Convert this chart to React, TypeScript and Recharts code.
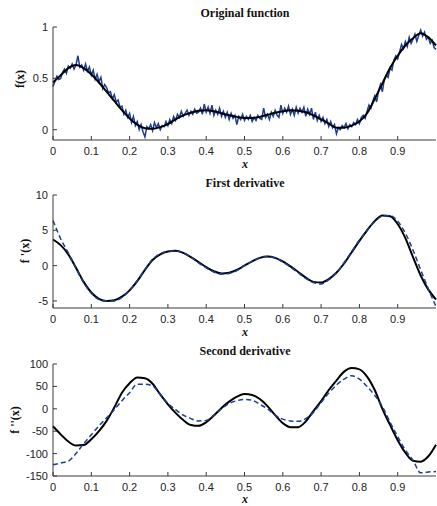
import React from "react"
import { Line, LineChart, XAxis, YAxis } from "recharts"

// fine x grid for the noisy samples
const xFine = [
  0, 0.005, 0.01, 0.015, 0.02, 0.025, 0.03, 0.035, 0.04, 0.045,
  0.05, 0.055, 0.06, 0.065, 0.07, 0.075, 0.08, 0.085, 0.09, 0.095,
  0.1, 0.105, 0.11, 0.115, 0.12, 0.125, 0.13, 0.135, 0.14, 0.145,
  0.15, 0.155, 0.16, 0.165, 0.17, 0.175, 0.18, 0.185, 0.19, 0.195,
  0.2, 0.205, 0.21, 0.215, 0.22, 0.225, 0.23, 0.235, 0.24, 0.245,
  0.25, 0.255, 0.26, 0.265, 0.27, 0.275, 0.28, 0.285, 0.29, 0.295,
  0.3, 0.305, 0.31, 0.315, 0.32, 0.325, 0.33, 0.335, 0.34, 0.345,
  0.35, 0.355, 0.36, 0.365, 0.37, 0.375, 0.38, 0.385, 0.39, 0.395,
  0.4, 0.405, 0.41, 0.415, 0.42, 0.425, 0.43, 0.435, 0.44, 0.445,
  0.45, 0.455, 0.46, 0.465, 0.47, 0.475, 0.48, 0.485, 0.49, 0.495,
  0.5, 0.505, 0.51, 0.515, 0.52, 0.525, 0.53, 0.535, 0.54, 0.545,
  0.55, 0.555, 0.56, 0.565, 0.57, 0.575, 0.58, 0.585, 0.59, 0.595,
  0.6, 0.605, 0.61, 0.615, 0.62, 0.625, 0.63, 0.635, 0.64, 0.645,
  0.65, 0.655, 0.66, 0.665, 0.67, 0.675, 0.68, 0.685, 0.69, 0.695,
  0.7, 0.705, 0.71, 0.715, 0.72, 0.725, 0.73, 0.735, 0.74, 0.745,
  0.75, 0.755, 0.76, 0.765, 0.77, 0.775, 0.78, 0.785, 0.79, 0.795,
  0.8, 0.805, 0.81, 0.815, 0.82, 0.825, 0.83, 0.835, 0.84, 0.845,
  0.85, 0.855, 0.86, 0.865, 0.87, 0.875, 0.88, 0.885, 0.89, 0.895,
  0.9, 0.905, 0.91, 0.915, 0.92, 0.925, 0.93, 0.935, 0.94, 0.945,
  0.95, 0.955, 0.96, 0.965, 0.97, 0.975, 0.98, 0.985, 0.99, 0.995,
  1,
]
// coarse x grid for the smooth curves
const xCoarse = [
  0, 0.02, 0.04, 0.06, 0.08, 0.1, 0.12, 0.14, 0.16, 0.18,
  0.2, 0.22, 0.24, 0.26, 0.28, 0.3, 0.32, 0.34, 0.36, 0.38,
  0.4, 0.42, 0.44, 0.46, 0.48, 0.5, 0.52, 0.54, 0.56, 0.58,
  0.6, 0.62, 0.64, 0.66, 0.68, 0.7, 0.72, 0.74, 0.76, 0.78,
  0.8, 0.82, 0.84, 0.86, 0.88, 0.9, 0.92, 0.94, 0.96, 0.98,
  1,
]

// noisy samples (blue) on xFine
const fNoisy = [
  0.42, 0.47, 0.52, 0.49, 0.5, 0.56, 0.59, 0.55, 0.62, 0.6,
  0.64, 0.59, 0.63, 0.72, 0.61, 0.63, 0.58, 0.64, 0.57, 0.61,
  0.53, 0.58, 0.49, 0.54, 0.47, 0.51, 0.4, 0.44, 0.41, 0.36,
  0.37, 0.3, 0.34, 0.27, 0.29, 0.22, 0.23, 0.15, 0.19, 0.12,
  0.16, 0.07, 0.13, 0.04, 0.08, 0.0, 0.05, -0.02, -0.07, 0.03,
  0.01, 0.05, -0.01, 0.07, 0.02, 0.06, 0.0, 0.04, 0.03, 0.08,
  0.04, 0.1, 0.06, 0.13, 0.09, 0.15, 0.12, 0.18, 0.13, 0.16,
  0.19, 0.14, 0.18, 0.15, 0.2, 0.16, 0.17, 0.21, 0.15, 0.25,
  0.17, 0.22, 0.16, 0.24, 0.14, 0.19, 0.15, 0.21, 0.13, 0.18,
  0.12, 0.17, 0.1, 0.16, 0.11, 0.14, 0.05, 0.13, 0.1, 0.15,
  0.09, 0.13, 0.1, 0.14, 0.08, 0.12, 0.09, 0.14, 0.11, 0.1,
  0.21, 0.12, 0.15, 0.1, 0.17, 0.13, 0.19, 0.14, 0.12, 0.24,
  0.16, 0.21, 0.17, 0.23, 0.15, 0.2, 0.14, 0.22, 0.16, 0.21,
  0.17, 0.22, 0.13, 0.2, 0.15, 0.21, 0.1, 0.17, 0.09, 0.14,
  0.08, 0.12, 0.06, 0.1, 0.03, 0.08, 0.02, 0.05, -0.04, 0.02,
  0.0, 0.04, 0.02, 0.06, 0.01, 0.05, 0.03, 0.07, 0.05, 0.1,
  0.06, 0.12, 0.14, 0.11, 0.18, 0.24, 0.21, 0.28, 0.33, 0.27,
  0.38, 0.44, 0.37, 0.49, 0.53, 0.51, 0.6, 0.58, 0.68, 0.72,
  0.69, 0.76, 0.83, 0.79, 0.86, 0.81, 0.9, 0.84, 0.88, 0.93,
  0.86, 0.92, 0.97, 0.91, 0.95, 0.88, 0.9, 0.84, 0.87, 0.8,
  0.78,
]

// smooth curves (black) and estimates (blue dashed) on xCoarse
const fSmooth = [
  0.46, 0.53, 0.6, 0.63, 0.6, 0.54, 0.46, 0.37, 0.28, 0.19,
  0.11, 0.05, 0.015, 0.01, 0.025, 0.055, 0.1, 0.14, 0.165, 0.185,
  0.19, 0.18, 0.16, 0.14, 0.125, 0.115, 0.115, 0.125, 0.145, 0.165,
  0.18, 0.19, 0.185, 0.17, 0.14, 0.1, 0.06, 0.02, 0.02, 0.04,
  0.08, 0.16, 0.3, 0.45, 0.6, 0.72, 0.82, 0.89, 0.94, 0.9,
  0.82,
]
const d1True = [
  3.7, 2.9, 1.6, -0.3, -2.3, -3.8, -4.7, -5.0, -4.9, -4.4,
  -3.5, -2.2, -0.6, 0.8, 1.6, 2.0, 2.1, 1.8, 1.2, 0.5,
  -0.2, -0.8, -1.1, -1.0, -0.6, 0.0, 0.6, 1.1, 1.3, 1.1,
  0.6, -0.1, -0.9, -1.7, -2.3, -2.4, -1.9, -1.0, 0.3, 1.9,
  3.5, 5.0, 6.3, 7.1, 7.0, 5.9, 3.9, 1.2, -1.4, -3.4,
  -4.8,
]
const d1Est = [
  6.4, 3.8, 1.8, -0.4, -2.4, -3.9, -4.8, -5.0, -5.0, -4.5,
  -3.5, -2.1, -0.6, 0.9, 1.7, 2.0, 2.1, 1.8, 1.2, 0.4,
  -0.3, -0.9, -1.2, -1.1, -0.7, 0.0, 0.6, 1.1, 1.3, 1.1,
  0.5, -0.2, -1.0, -1.8, -2.4, -2.6, -2.0, -1.0, 0.4, 2.0,
  3.6, 5.0, 6.2, 7.0, 7.1, 6.3, 4.6, 2.2, -0.6, -3.3,
  -5.8,
]
const d2True = [
  -39, -57, -73, -82, -81, -68, -50, -27, 3, 36,
  57, 70, 68, 56, 32, 10, -9, -25, -36, -38,
  -30, -15, 2, 16, 27, 33, 31, 22, 6, -14,
  -32, -41, -41, -28, -5, 17, 42, 63, 83, 91,
  88, 72, 42, 0, -36, -70, -98, -116, -118, -106,
  -80,
]
const d2Est = [
  -125, -121, -117, -100, -78, -58, -38, -20, -2, 18,
  36, 55, 55, 51, 32, 12, -2, -14, -22, -27,
  -26, -15, 0, 12, 18, 21, 19, 10, 0, -14,
  -23, -27, -28, -22, -8, 14, 35, 53, 66, 74,
  66, 50, 30, 5, -30, -62, -92, -115, -143, -141,
  -140,
]

const xTicks = [0, 0.1, 0.2, 0.3, 0.4, 0.5, 0.6, 0.7, 0.8, 0.9]
const yTicks1 = [0, 0.5, 1]
const yTicks2 = [-5, 0, 5, 10]
const yTicks3 = [-150, -100, -50, 0, 50, 100]

const noisyData = xFine.map((x, i) => ({ x, y: fNoisy[i] }))
const smoothData = xCoarse.map((x, i) => ({ x, y: fSmooth[i] }))
const d1TrueData = xCoarse.map((x, i) => ({ x, y: d1True[i] }))
const d1EstData = xCoarse.map((x, i) => ({ x, y: d1Est[i] }))
const d2TrueData = xCoarse.map((x, i) => ({ x, y: d2True[i] }))
const d2EstData = xCoarse.map((x, i) => ({ x, y: d2Est[i] }))

const AXIS = "#3a3a3a"
const BLUE = "#1b3d93"
const TICK_FONT = "'Liberation Sans', Arial, sans-serif"
const SERIF = "'Liberation Serif', 'Times New Roman', serif"

// matlab-style inward ticks
const BottomTick = ({ x, y, payload }: any) => (
  <g>
    <line x1={x} x2={x} y1={y} y2={y - 4} stroke={AXIS} />
    <text x={x} y={y + 11} textAnchor="middle" dominantBaseline="central" fontSize={11} fill="#222" fontFamily={TICK_FONT}>
      {payload.value}
    </text>
  </g>
)
const TopTick = ({ x, y }: any) => <line x1={x} x2={x} y1={y} y2={y + 4} stroke={AXIS} />
const LeftTick = ({ x, y, payload }: any) => (
  <g>
    <line x1={x} x2={x + 4} y1={y} y2={y} stroke={AXIS} />
    <text x={x - 5} y={y} textAnchor="end" dominantBaseline="central" fontSize={11} fill="#222" fontFamily={TICK_FONT}>
      {payload.value}
    </text>
  </g>
)
const RightTick = ({ x, y }: any) => <line x1={x} x2={x - 4} y1={y} y2={y} stroke={AXIS} />

function Panel({ top, height, plotTop, plotBottom, domain, yTicks, children }: any) {
  return (
    <div style={{ position: "absolute", left: 0, top }}>
      <LineChart width={437} height={height} margin={{ top: plotTop, right: 1, bottom: 0, left: 0 }}>
        <XAxis
          xAxisId="b"
          type="number"
          dataKey="x"
          domain={[0, 1]}
          ticks={xTicks}
          interval={0}
          height={height - plotBottom}
          tickSize={0}
          tickMargin={0}
          tickLine={false}
          stroke={AXIS}
          tick={(p: any) => <BottomTick {...p} />}
        />
        <XAxis
          xAxisId="t"
          orientation="top"
          type="number"
          dataKey="x"
          domain={[0, 1]}
          ticks={xTicks}
          interval={0}
          height={0}
          tickSize={0}
          tickMargin={0}
          tickLine={false}
          stroke={AXIS}
          tick={(p: any) => <TopTick {...p} />}
        />
        <YAxis
          yAxisId="l"
          type="number"
          domain={domain}
          ticks={yTicks}
          interval={0}
          width={53}
          tickSize={0}
          tickMargin={0}
          tickLine={false}
          stroke={AXIS}
          allowDataOverflow
          tick={(p: any) => <LeftTick {...p} />}
        />
        <YAxis
          yAxisId="r"
          orientation="right"
          type="number"
          domain={domain}
          ticks={yTicks}
          interval={0}
          width={0}
          tickSize={0}
          tickMargin={0}
          tickLine={false}
          stroke={AXIS}
          allowDataOverflow
          tick={(p: any) => <RightTick {...p} />}
        />
        {children}
      </LineChart>
    </div>
  )
}

export default function App() {
  return (
    <div style={{ position: "absolute", left: 0, top: 0, width: 437, height: 506, background: "#fff" }}>
      <Panel top={0} height={170} plotTop={27} plotBottom={140} domain={[-0.1, 1]} yTicks={yTicks1}>
        <Line xAxisId="b" yAxisId="l" data={noisyData} dataKey="y" type="linear" stroke={BLUE} strokeWidth={1.5} dot={false} isAnimationActive={false} />
        <Line xAxisId="b" yAxisId="l" data={smoothData} dataKey="y" type="monotone" stroke="#000" strokeWidth={2} dot={false} isAnimationActive={false} />
      </Panel>
      <Panel top={170} height={170} plotTop={25} plotBottom={138} domain={[-6, 10]} yTicks={yTicks2}>
        <Line xAxisId="b" yAxisId="l" data={d1TrueData} dataKey="y" type="monotone" stroke="#000" strokeWidth={2} dot={false} isAnimationActive={false} />
        <Line xAxisId="b" yAxisId="l" data={d1EstData} dataKey="y" type="monotone" stroke={BLUE} strokeWidth={1.5} strokeDasharray="5 3" dot={false} isAnimationActive={false} />
      </Panel>
      <Panel top={340} height={166} plotTop={24} plotBottom={136} domain={[-150, 100]} yTicks={yTicks3}>
        <Line xAxisId="b" yAxisId="l" data={d2TrueData} dataKey="y" type="monotone" stroke="#000" strokeWidth={2} dot={false} isAnimationActive={false} />
        <Line xAxisId="b" yAxisId="l" data={d2EstData} dataKey="y" type="monotone" stroke={BLUE} strokeWidth={1.5} strokeDasharray="5 3" dot={false} isAnimationActive={false} />
      </Panel>
      <svg width={437} height={506} style={{ position: "absolute", left: 0, top: 0, pointerEvents: "none" }}>
        <g fontFamily={SERIF} fontWeight="bold" fontSize={12} fill="#111" textAnchor="middle" dominantBaseline="central">
          <text x={245} y={13}>Original function</text>
          <text x={245} y={183}>First derivative</text>
          <text x={245} y={351}>Second derivative</text>
          <text x={245} y={164} fontStyle="italic">x</text>
          <text x={245} y={332} fontStyle="italic">x</text>
          <text x={245} y={499} fontStyle="italic">x</text>
          <text x={20} y={79} transform="rotate(-90 20 79)">f(x)</text>
          <text x={25} y={251} transform="rotate(-90 25 251)">f '(x)</text>
          <text x={15} y={420} transform="rotate(-90 15 420)">f ''(x)</text>
        </g>
      </svg>
    </div>
  )
}
